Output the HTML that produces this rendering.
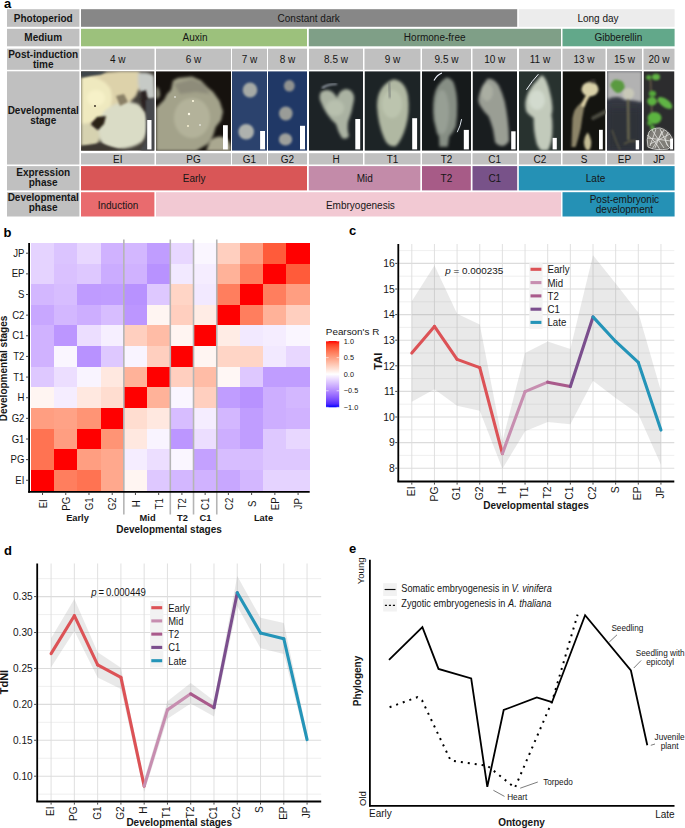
<!DOCTYPE html>
<html><head><meta charset="utf-8"><title>Figure</title>
<style>
html,body{margin:0;padding:0;background:#fff;}
body{width:685px;height:828px;overflow:hidden;}
svg{display:block;font-family:"Liberation Sans",sans-serif;}
</style></head><body>
<svg width="685" height="828" viewBox="0 0 685 828">
<rect x="7" y="9.2" width="72.40" height="17.60" fill="#c0c0c0" />
<rect x="7" y="28.8" width="72.40" height="17.50" fill="#c0c0c0" />
<rect x="7" y="48.7" width="72.40" height="21.10" fill="#c0c0c0" />
<rect x="7" y="71.3" width="72.40" height="93.20" fill="#c0c0c0" />
<rect x="7" y="166.1" width="72.40" height="24.30" fill="#c0c0c0" />
<rect x="7" y="192.2" width="72.40" height="24.30" fill="#c0c0c0" />
<text x="43.2" y="21.6" font-size="10" text-anchor="middle" font-weight="bold" fill="#161616" >Photoperiod</text>
<text x="43.2" y="40.6" font-size="10" text-anchor="middle" font-weight="bold" fill="#161616" >Medium</text>
<text x="43.2" y="57.6" font-size="10" text-anchor="middle" font-weight="bold" fill="#161616" >Post-induction</text>
<text x="43.2" y="68.1" font-size="10" text-anchor="middle" font-weight="bold" fill="#161616" >time</text>
<text x="43.2" y="113.5" font-size="10" text-anchor="middle" font-weight="bold" fill="#161616" >Developmental</text>
<text x="43.2" y="124.0" font-size="10" text-anchor="middle" font-weight="bold" fill="#161616" >stage</text>
<text x="43.2" y="175.8" font-size="10" text-anchor="middle" font-weight="bold" fill="#161616" >Expression</text>
<text x="43.2" y="185.8" font-size="10" text-anchor="middle" font-weight="bold" fill="#161616" >phase</text>
<text x="43.2" y="201.1" font-size="10" text-anchor="middle" font-weight="bold" fill="#161616" >Developmental</text>
<text x="43.2" y="211.4" font-size="10" text-anchor="middle" font-weight="bold" fill="#161616" >phase</text>
<rect x="81" y="9.2" width="436.20" height="17.60" fill="#878787" />
<rect x="518.8" y="9.2" width="155.80" height="17.60" fill="#ececec" />
<text x="308.7" y="22.0" font-size="10" text-anchor="middle" font-weight="normal" fill="#161616" >Constant dark</text>
<text x="598" y="22.0" font-size="10" text-anchor="middle" font-weight="normal" fill="#161616" >Long day</text>
<rect x="81" y="28.8" width="226.00" height="17.50" fill="#9cc17c" />
<rect x="308.8" y="28.8" width="252.20" height="17.50" fill="#7f9f87" />
<rect x="562.5" y="28.8" width="112.10" height="17.50" fill="#62a88a" />
<text x="195" y="41.2" font-size="10" text-anchor="middle" font-weight="normal" fill="#161616" >Auxin</text>
<text x="434.7" y="41.2" font-size="10" text-anchor="middle" font-weight="normal" fill="#161616" >Hormone-free</text>
<text x="618.4" y="41.2" font-size="10" text-anchor="middle" font-weight="normal" fill="#161616" >Gibberellin</text>
<rect x="81" y="48.7" width="73.50" height="21.10" fill="#c0c0c0" />
<text x="117.75" y="63.2" font-size="10" text-anchor="middle" font-weight="normal" fill="#161616" >4 w</text>
<rect x="81" y="153.2" width="73.50" height="11.30" fill="#c0c0c0" />
<text x="117.75" y="162.7" font-size="10" text-anchor="middle" font-weight="normal" fill="#161616" >EI</text>
<rect x="156" y="48.7" width="75.00" height="21.10" fill="#c0c0c0" />
<text x="193.5" y="63.2" font-size="10" text-anchor="middle" font-weight="normal" fill="#161616" >6 w</text>
<rect x="156" y="153.2" width="75.00" height="11.30" fill="#c0c0c0" />
<text x="193.5" y="162.7" font-size="10" text-anchor="middle" font-weight="normal" fill="#161616" >PG</text>
<rect x="232" y="48.7" width="35.00" height="21.10" fill="#c0c0c0" />
<text x="249.5" y="63.2" font-size="10" text-anchor="middle" font-weight="normal" fill="#161616" >7 w</text>
<rect x="232" y="153.2" width="35.00" height="11.30" fill="#c0c0c0" />
<text x="249.5" y="162.7" font-size="10" text-anchor="middle" font-weight="normal" fill="#161616" >G1</text>
<rect x="268" y="48.7" width="39.00" height="21.10" fill="#c0c0c0" />
<text x="287.5" y="63.2" font-size="10" text-anchor="middle" font-weight="normal" fill="#161616" >8 w</text>
<rect x="268" y="153.2" width="39.00" height="11.30" fill="#c0c0c0" />
<text x="287.5" y="162.7" font-size="10" text-anchor="middle" font-weight="normal" fill="#161616" >G2</text>
<rect x="309" y="48.7" width="54.00" height="21.10" fill="#c0c0c0" />
<text x="336.0" y="63.2" font-size="10" text-anchor="middle" font-weight="normal" fill="#161616" >8.5 w</text>
<rect x="309" y="153.2" width="54.00" height="11.30" fill="#c0c0c0" />
<text x="336.0" y="162.7" font-size="10" text-anchor="middle" font-weight="normal" fill="#161616" >H</text>
<rect x="364.5" y="48.7" width="56.00" height="21.10" fill="#c0c0c0" />
<text x="392.5" y="63.2" font-size="10" text-anchor="middle" font-weight="normal" fill="#161616" >9 w</text>
<rect x="364.5" y="153.2" width="56.00" height="11.30" fill="#c0c0c0" />
<text x="392.5" y="162.7" font-size="10" text-anchor="middle" font-weight="normal" fill="#161616" >T1</text>
<rect x="422" y="48.7" width="49.00" height="21.10" fill="#c0c0c0" />
<text x="446.5" y="63.2" font-size="10" text-anchor="middle" font-weight="normal" fill="#161616" >9.5 w</text>
<rect x="422" y="153.2" width="49.00" height="11.30" fill="#c0c0c0" />
<text x="446.5" y="162.7" font-size="10" text-anchor="middle" font-weight="normal" fill="#161616" >T2</text>
<rect x="472.5" y="48.7" width="44.50" height="21.10" fill="#c0c0c0" />
<text x="494.75" y="63.2" font-size="10" text-anchor="middle" font-weight="normal" fill="#161616" >10 w</text>
<rect x="472.5" y="153.2" width="44.50" height="11.30" fill="#c0c0c0" />
<text x="494.75" y="162.7" font-size="10" text-anchor="middle" font-weight="normal" fill="#161616" >C1</text>
<rect x="519" y="48.7" width="42.00" height="21.10" fill="#c0c0c0" />
<text x="540.0" y="63.2" font-size="10" text-anchor="middle" font-weight="normal" fill="#161616" >11 w</text>
<rect x="519" y="153.2" width="42.00" height="11.30" fill="#c0c0c0" />
<text x="540.0" y="162.7" font-size="10" text-anchor="middle" font-weight="normal" fill="#161616" >C2</text>
<rect x="562.5" y="48.7" width="43.00" height="21.10" fill="#c0c0c0" />
<text x="584.0" y="63.2" font-size="10" text-anchor="middle" font-weight="normal" fill="#161616" >13 w</text>
<rect x="562.5" y="153.2" width="43.00" height="11.30" fill="#c0c0c0" />
<text x="584.0" y="162.7" font-size="10" text-anchor="middle" font-weight="normal" fill="#161616" >S</text>
<rect x="607" y="48.7" width="35.00" height="21.10" fill="#c0c0c0" />
<text x="624.5" y="63.2" font-size="10" text-anchor="middle" font-weight="normal" fill="#161616" >15 w</text>
<rect x="607" y="153.2" width="35.00" height="11.30" fill="#c0c0c0" />
<text x="624.5" y="162.7" font-size="10" text-anchor="middle" font-weight="normal" fill="#161616" >EP</text>
<rect x="643.5" y="48.7" width="31.00" height="21.10" fill="#c0c0c0" />
<text x="659.0" y="63.2" font-size="10" text-anchor="middle" font-weight="normal" fill="#161616" >20 w</text>
<rect x="643.5" y="153.2" width="31.00" height="11.30" fill="#c0c0c0" />
<text x="659.0" y="162.7" font-size="10" text-anchor="middle" font-weight="normal" fill="#161616" >JP</text>
<rect x="81" y="166.1" width="226.00" height="24.30" fill="#d95657" />
<rect x="308.8" y="166.1" width="111.50" height="24.30" fill="#c38ba9" />
<rect x="422" y="166.1" width="48.80" height="24.30" fill="#a75b87" />
<rect x="472.5" y="166.1" width="44.70" height="24.30" fill="#785289" />
<rect x="518.8" y="166.1" width="155.80" height="24.30" fill="#2591b5" />
<text x="194.2" y="181.5" font-size="10" text-anchor="middle" font-weight="normal" fill="#161616" >Early</text>
<text x="364.7" y="181.5" font-size="10" text-anchor="middle" font-weight="normal" fill="#161616" >Mid</text>
<text x="446.4" y="181.8" font-size="10" text-anchor="middle" font-weight="normal" fill="#161616" >T2</text>
<text x="494.8" y="181.8" font-size="10" text-anchor="middle" font-weight="normal" fill="#161616" >C1</text>
<text x="595.5" y="181.7" font-size="10" text-anchor="middle" font-weight="normal" fill="#161616" >Late</text>
<rect x="81" y="192.2" width="73.40" height="24.30" fill="#e96b6e" />
<rect x="156" y="192.2" width="405.00" height="24.30" fill="#f2c9d3" />
<rect x="562.5" y="192.2" width="112.10" height="24.30" fill="#2591b5" />
<text x="118" y="208.5" font-size="10" text-anchor="middle" font-weight="normal" fill="#161616" >Induction</text>
<text x="360.4" y="208.8" font-size="10" text-anchor="middle" font-weight="normal" fill="#161616" >Embryogenesis</text>
<text x="624.4" y="202.9" font-size="10" text-anchor="middle" font-weight="normal" fill="#161616" >Post-embryonic</text>
<text x="624.4" y="212.6" font-size="10" text-anchor="middle" font-weight="normal" fill="#161616" >development</text>
<defs>
<filter id="b1" x="-20%" y="-20%" width="140%" height="140%"><feGaussianBlur stdDeviation="0.8"/></filter>
<filter id="b2" x="-20%" y="-20%" width="140%" height="140%"><feGaussianBlur stdDeviation="1.6"/></filter>
<filter id="b3" x="-30%" y="-30%" width="160%" height="160%"><feGaussianBlur stdDeviation="3"/></filter>
<clipPath id="c0"><rect x="81" y="71.2" width="73.5" height="79.60000000000001"/></clipPath>
<clipPath id="c1"><rect x="156" y="71.2" width="75" height="79.60000000000001"/></clipPath>
<clipPath id="c2"><rect x="232" y="71.2" width="35" height="79.60000000000001"/></clipPath>
<clipPath id="c3"><rect x="268" y="71.2" width="39" height="79.60000000000001"/></clipPath>
<clipPath id="c4"><rect x="309" y="71.2" width="54" height="79.60000000000001"/></clipPath>
<clipPath id="c5"><rect x="364.5" y="71.2" width="56.0" height="79.60000000000001"/></clipPath>
<clipPath id="c6"><rect x="422" y="71.2" width="49" height="79.60000000000001"/></clipPath>
<clipPath id="c7"><rect x="472.5" y="71.2" width="44.5" height="79.60000000000001"/></clipPath>
<clipPath id="c8"><rect x="519" y="71.2" width="42" height="79.60000000000001"/></clipPath>
<clipPath id="c9"><rect x="562.5" y="71.2" width="43.0" height="79.60000000000001"/></clipPath>
<clipPath id="c10"><rect x="607" y="71.2" width="35" height="79.60000000000001"/></clipPath>
<clipPath id="c11"><rect x="643.5" y="71.2" width="31.0" height="79.60000000000001"/></clipPath>
</defs>
<g clip-path="url(#c0)">
<rect x="81" y="71.2" width="73.5" height="79.60000000000001" fill="#44403a"/>

<g filter="url(#b2)">
<path d="M81,77 L90,75 L100,73 L108,72 L120,71 L138,71 L146,76 L140,86 L136,96 L128,104 L118,108 L108,112 L100,118 L92,124 L81,128 Z" fill="#ddd2aa"/>
<path d="M81,78 Q88,74 96,78 Q104,80 110,88 Q114,98 110,108 Q104,116 96,120 Q88,124 81,124 Z" fill="#efe9bf"/>
<ellipse cx="96" cy="98" rx="9" ry="8" fill="#f6f1c8"/>
<path d="M138,73 Q148,71 154,76 L155,98 Q150,100 144,97 Q138,90 138,82 Z" fill="#c6cac6"/>
<path d="M100,118 Q104,108 116,104 Q128,100 138,104 Q146,110 148,122 Q148,134 142,142 Q132,149 118,149 Q104,149 100,140 Q96,130 100,118 Z" fill="#dadcc6"/>
<path d="M81,124 Q92,122 98,130 Q102,140 96,146 Q88,148 81,146 Z" fill="#d6d2b0"/>
</g>
<g filter="url(#b1)">
<path d="M81,71 L107,71 L101,74.4 L92,75.6 L81,77.5 Z" fill="#3c4448"/>
<path d="M91,124 L97,117 L106,116 L104,124 L98,130 Z" fill="#2a2018"/>
<path d="M140,92 L146,90 L148,100 L146,112 L142,106 Z" fill="#2a2420"/>
<path d="M146,100 L155,98 L155,151 L140,151 L146,140 Z" fill="#464a4e"/>
<path d="M116,96 L124,94 L128,102 L120,106 Z" fill="#8a8066"/>
<path d="M81,146 L100,143 L118,149 L130,151 L81,151 Z" fill="#3c3832"/>
</g>
<circle cx="95" cy="106" r="0.9" fill="#2a2018"/>

<rect x="147.2" y="120" width="4.30" height="29.40" fill="#fff"/>
</g>
<g clip-path="url(#c1)">
<rect x="156" y="71.2" width="75" height="79.60000000000001" fill="#16120e"/>

<g filter="url(#b2)">
<path d="M156,108 L164,100 L167,94 L171,90 L173,80.5 L178,78 L192,76.5 L201,80.5 L208,87.7 L213,91.7 L219.6,101 L223,111.4 L221,120.6 L215.7,127 L213,136 L207.8,144 L202.6,147 L196,151 L156,151 Z" fill="#a3a28a"/>
<path d="M174,84 L192,79 L204,84 L210,94 L196,92 L180,94 Z" fill="#8e8c7a"/>
<ellipse cx="192" cy="118" rx="18" ry="20" fill="#b3b29a"/>
<path d="M210.5,140 Q218,134 226,138 Q231,142 231,151 L206,151 Z" fill="#aaa890"/>
<path d="M156,86 Q160,88 160,96 L156,100 Z" fill="#8a8a78"/>
</g>
<circle cx="193" cy="101" r="1.1" fill="#fffbe0"/><circle cx="189" cy="114" r="1.2" fill="#fffbe8"/><circle cx="188" cy="126" r="0.9" fill="#fff8d8"/><circle cx="200" cy="125" r="0.8" fill="#fff"/><circle cx="175" cy="97" r="0.8" fill="#fff"/>

<rect x="223" y="125.2" width="4.80" height="24.20" fill="#fff"/>
</g>
<g clip-path="url(#c2)">
<rect x="232" y="71.2" width="35" height="79.60000000000001" fill="#2b426d"/>

<g filter="url(#b1)">
<ellipse cx="250" cy="90" rx="7.3" ry="7.6" fill="#a6aaa6"/>
<ellipse cx="246.2" cy="131.8" rx="7.8" ry="7.8" fill="#aeb2ae"/>
</g>

<rect x="260.1" y="131" width="4.90" height="18.40" fill="#fff"/>
</g>
<g clip-path="url(#c3)">
<rect x="268" y="71.2" width="39" height="79.60000000000001" fill="#203866"/>

<g filter="url(#b1)">
<ellipse cx="289.3" cy="85.8" rx="5.4" ry="5.8" fill="#909290"/>
<ellipse cx="285.8" cy="113.5" rx="6.8" ry="7" fill="#9a9c98"/>
<ellipse cx="285.5" cy="139.4" rx="6.6" ry="6.2" fill="#9ea09c"/>
</g>

<rect x="300" y="125.8" width="5.00" height="23.60" fill="#fff"/>
</g>
<g clip-path="url(#c4)">
<rect x="309" y="71.2" width="54" height="79.60000000000001" fill="#1d2326"/>

<g filter="url(#b2)">
<path d="M320,100 Q318,90 327,90 Q333,90 337,98 Q339,90 346,89 Q355,90 354,100 Q352,112 348,122 Q347,130 349,136 Q347,140 342,138 Q338,132 336,124 Q326,116 320,100 Z" fill="#aab2a2"/>
<ellipse cx="335" cy="108" rx="9" ry="8" fill="#b8c0ae"/>
</g>
<path d="M322,88 Q328,84 337,84" stroke="#e8f0ff" stroke-width="1.2" fill="none" filter="url(#b1)"/>

<rect x="355.3" y="119" width="4.90" height="30.40" fill="#fff"/>
</g>
<g clip-path="url(#c5)">
<rect x="364.5" y="71.2" width="56.0" height="79.60000000000001" fill="#1d2426"/>

<g filter="url(#b2)">
<path d="M393,79.5 Q405,80 408,96 Q410,112 406,126 Q402,140 396,146 Q388,148 384,138 Q378,124 377,106 Q377,86 393,79.5 Z" fill="#b0b8a2"/>
<ellipse cx="392" cy="104" rx="10" ry="14" fill="#bcc4ae"/>
</g>
<path d="M389,82 L390,98" stroke="#6a7070" stroke-width="1.5" filter="url(#b1)"/>

<rect x="412.2" y="118.2" width="4.90" height="31.20" fill="#fff"/>
</g>
<g clip-path="url(#c6)">
<rect x="422" y="71.2" width="49" height="79.60000000000001" fill="#161a1b"/>

<g filter="url(#b2)">
<path d="M446.3,77.5 Q451,78 453.6,82.6 Q457,92 457.2,104.5 Q457.5,116 455.8,126.4 Q453,133 449.2,136.6 L447.7,146.8 L439.5,146.8 L439,136.6 Q436,133 436,129.3 Q433,120 433.1,111.8 Q433,103 433.9,97.2 Q436,84 446.3,77.5 Z" fill="#868e84"/>
<ellipse cx="442" cy="112" rx="7" ry="22" fill="#979f94"/>
</g>
<path d="M434,80.4 Q437,75 441.9,73.1" stroke="#f0f4ff" stroke-width="1.1" fill="none"/>
<path d="M457.2,132.2 Q460.5,126 461.6,119.1" stroke="#d8e0e8" stroke-width="1" fill="none"/>

<rect x="463.8" y="129.9" width="5.10" height="19.50" fill="#fff"/>
</g>
<g clip-path="url(#c7)">
<rect x="472.5" y="71.2" width="44.5" height="79.60000000000001" fill="#191d1f"/>

<g filter="url(#b2)">
<path d="M487.2,78.9 Q491,78.5 493,79.7 Q497,82 498.8,85.5 Q502.5,93 504.7,101.6 Q506.5,110 507.6,119.1 Q509,130 509,141 Q506,146 501.8,146.1 Q497,145 495.2,142.5 Q494,135 493,129.3 Q491,122 488.6,116.2 Q484,112 481.3,107.4 Q478,103 478.4,98.7 Q480,88 487.2,78.9 Z" fill="#9a9e94"/>
<ellipse cx="487" cy="92" rx="6" ry="9" fill="#aaaea2"/>
</g>

<rect x="511.2" y="131.3" width="4.40" height="18.10" fill="#fff"/>
</g>
<g clip-path="url(#c8)">
<rect x="519" y="71.2" width="42" height="79.60000000000001" fill="#28322f"/>

<g filter="url(#b2)">
<path d="M542,75.3 Q545,77 546.2,80.5 Q549,87 550.3,94 Q552,100 552.4,107.5 Q552.5,112 551.4,114.8 Q552.5,120 552.4,126.2 Q552.5,134 551.4,140.8 Q550,147 548,150.5 L541,150.5 Q538,147 536.8,143.9 Q535,137 534.2,130.4 Q533.5,122 533.7,117.9 Q529,115 526.4,111.7 Q525,107 525.4,102.3 Q526,97 528.5,91.9 Q532,85 537.9,79.4 Q540,76 542,75.3 Z" fill="#c2cabb"/>
<ellipse cx="537" cy="100" rx="8" ry="10" fill="#d2dace"/>
</g>
<path d="M526.4,89.8 Q532,81 538.4,74.2" stroke="#f4f8ff" stroke-width="1" fill="none"/>

<rect x="552.6" y="137.9" width="4.20" height="11.50" fill="#fff"/>
</g>
<g clip-path="url(#c9)">
<rect x="562.5" y="71.2" width="43.0" height="79.60000000000001" fill="#141410"/>

<g filter="url(#b1)">
<path d="M571.5,147 Q572,130 572.5,118 Q574,108 580,104 Q584,100 587,95 L590,96 Q586,102 584,108 Q582,118 580.8,128 Q578,140 575.6,147 Z" fill="#8c8468"/>
<path d="M586,95 Q583,100 581,106 L584.5,107 Q586,101 589.5,96 Z" fill="#dcd0a4"/>
<ellipse cx="590" cy="89.2" rx="8.5" ry="7.3" fill="#d8d0a8"/>
<path d="M588,82 Q592,78 596,80 L594,84 Z" fill="#3a3630"/>
<path d="M593.2,118 L605.7,111.6" stroke="#4a4a40" stroke-width="4" stroke-linecap="round"/>
<path d="M587.5,132.4 Q590,135 591.2,142 Q591,150 588,150.5 Q584.5,150 583.9,142 Q584.5,136 587.5,132.4 Z" fill="#c4bc94"/>
</g>

<rect x="599" y="129.8" width="3.80" height="19.60" fill="#fff"/>
</g>
<g clip-path="url(#c10)">
<rect x="607" y="71.2" width="35" height="79.60000000000001" fill="#353842"/>

<path d="M607,71 L642,71 L642,102.3 Q633,100 625,100 Q620,97 617,97.1 Q612,97 607,99.5 Z" fill="#b2b2b2" filter="url(#b2)"/>
<rect x="607" y="108" width="35" height="43" fill="#2e3038" filter="url(#b3)"/>
<g filter="url(#b1)">
<path d="M610.2,85 Q612,80 616,79.4 Q619,80 622,81 Q625,84 624.8,88 Q622,93 617,93 Q613,91 610.2,85 Z" fill="#5a9a40"/>
<ellipse cx="628.4" cy="93.5" rx="5.7" ry="5.5" fill="#c8c8b8"/>
<path d="M628,99 L628.5,140" stroke="#6a6850" stroke-width="2.5"/>
<path d="M612,130 Q616,142 620,150" stroke="#6a6448" stroke-width="1" fill="none"/>
<path d="M624,144 Q630,140 636,141" stroke="#6a6448" stroke-width="1.2" fill="none"/>
</g>

<rect x="635.7" y="140.2" width="3.40" height="9.20" fill="#fff"/>
</g>
<g clip-path="url(#c11)">
<rect x="643.5" y="71.2" width="31.0" height="79.60000000000001" fill="#2c2c2e"/>

<g filter="url(#b1)">
<path d="M650.5,80 L651,93 M652,96 L651.5,116 M653,104 L660,100" stroke="#7a6a50" stroke-width="1.2" fill="none"/>
<ellipse cx="656" cy="77" rx="4" ry="3.2" fill="#62b444"/>
<ellipse cx="648.8" cy="77.4" rx="2.6" ry="2.4" fill="#58a83c"/>
<ellipse cx="652.5" cy="93.7" rx="3.6" ry="2.9" fill="#54a83a"/>
<ellipse cx="652" cy="101.2" rx="4.7" ry="4.2" fill="#5cb040"/>
<ellipse cx="665" cy="103" rx="8.5" ry="4" transform="rotate(35 665 103)" fill="#60b444"/>
<ellipse cx="654.5" cy="118" rx="7" ry="6" fill="#5cb440"/>
<ellipse cx="649.7" cy="123" rx="2.4" ry="2.6" fill="#54a83a"/>
<ellipse cx="652.5" cy="127.7" rx="2.2" ry="2.6" fill="#54a83a"/>
<path d="M649,132 Q646,140 648,147 Q656,151 668,149 Q673,146 672,138 Q668,130 660,128 Q652,128 649,132 Z" fill="#807e78"/>
</g>
<g stroke="#e8e8e4" stroke-width="0.8" fill="none" opacity="0.95">
<path d="M649,132 Q646,140 648,147 Q656,151 668,149 Q673,146 672,138 Q668,130 660,128 Q652,128 649,132 Z"/>
<path d="M652,130 L664,148 M656,129 L650,146 M660,129 L668,146 M648,138 L671,141 M650,144 L670,134 M655,148 L662,131 M647,135 Q655,140 660,150 M664,130 Q658,140 652,149 M668,132 Q662,142 670,148"/>
</g>

<rect x="670.1" y="138.6" width="2.90" height="10.80" fill="#fff"/>
</g>
<text x="4" y="8.2" font-size="13" text-anchor="start" font-weight="bold" fill="#000" >a</text>
<text x="3.6" y="237.0" font-size="13" text-anchor="start" font-weight="bold" fill="#000" >b</text>
<text x="349" y="234.8" font-size="13" text-anchor="start" font-weight="bold" fill="#000" >c</text>
<text x="4" y="554.7" font-size="13" text-anchor="start" font-weight="bold" fill="#000" >d</text>
<text x="349" y="553.1" font-size="13" text-anchor="start" font-weight="bold" fill="#000" >e</text>
<g shape-rendering="crispEdges">
<rect x="30.90" y="242.90" width="23.53" height="20.94" fill="#e5d3ff"/>
<rect x="54.13" y="242.90" width="23.53" height="20.94" fill="#dbc4ff"/>
<rect x="77.37" y="242.90" width="23.53" height="20.94" fill="#e8d7ff"/>
<rect x="100.60" y="242.90" width="23.53" height="20.94" fill="#d0b2ff"/>
<rect x="123.83" y="242.90" width="23.53" height="20.94" fill="#d3b7ff"/>
<rect x="147.07" y="242.90" width="23.53" height="20.94" fill="#c09dff"/>
<rect x="170.30" y="242.90" width="23.53" height="20.94" fill="#e8d7ff"/>
<rect x="193.53" y="242.90" width="23.53" height="20.94" fill="#faf6ff"/>
<rect x="216.77" y="242.90" width="23.53" height="20.94" fill="#ffcfbf"/>
<rect x="240.00" y="242.90" width="23.53" height="20.94" fill="#ff9e81"/>
<rect x="263.23" y="242.90" width="23.53" height="20.94" fill="#ff5b3a"/>
<rect x="286.47" y="242.90" width="23.53" height="20.94" fill="#ff0000"/>
<rect x="30.90" y="263.54" width="23.53" height="20.94" fill="#e5d3ff"/>
<rect x="54.13" y="263.54" width="23.53" height="20.94" fill="#dac1ff"/>
<rect x="77.37" y="263.54" width="23.53" height="20.94" fill="#dec8ff"/>
<rect x="100.60" y="263.54" width="23.53" height="20.94" fill="#cbacff"/>
<rect x="123.83" y="263.54" width="23.53" height="20.94" fill="#d0b2ff"/>
<rect x="147.07" y="263.54" width="23.53" height="20.94" fill="#b892ff"/>
<rect x="170.30" y="263.54" width="23.53" height="20.94" fill="#f2e9ff"/>
<rect x="193.53" y="263.54" width="23.53" height="20.94" fill="#f5edff"/>
<rect x="216.77" y="263.54" width="23.53" height="20.94" fill="#ffb299"/>
<rect x="240.00" y="263.54" width="23.53" height="20.94" fill="#ff7e5e"/>
<rect x="263.23" y="263.54" width="23.53" height="20.94" fill="#ff0000"/>
<rect x="286.47" y="263.54" width="23.53" height="20.94" fill="#ff5b3a"/>
<rect x="30.90" y="284.18" width="23.53" height="20.94" fill="#d3b7ff"/>
<rect x="54.13" y="284.18" width="23.53" height="20.94" fill="#d7bdff"/>
<rect x="77.37" y="284.18" width="23.53" height="20.94" fill="#bf9bff"/>
<rect x="100.60" y="284.18" width="23.53" height="20.94" fill="#c09dff"/>
<rect x="123.83" y="284.18" width="23.53" height="20.94" fill="#b892ff"/>
<rect x="147.07" y="284.18" width="23.53" height="20.94" fill="#dec8ff"/>
<rect x="170.30" y="284.18" width="23.53" height="20.94" fill="#ffd5c6"/>
<rect x="193.53" y="284.18" width="23.53" height="20.94" fill="#f2e9ff"/>
<rect x="216.77" y="284.18" width="23.53" height="20.94" fill="#ff7e5e"/>
<rect x="240.00" y="284.18" width="23.53" height="20.94" fill="#ff0000"/>
<rect x="263.23" y="284.18" width="23.53" height="20.94" fill="#ff7e5e"/>
<rect x="286.47" y="284.18" width="23.53" height="20.94" fill="#ff9e81"/>
<rect x="30.90" y="304.83" width="23.53" height="20.94" fill="#c8a7ff"/>
<rect x="54.13" y="304.83" width="23.53" height="20.94" fill="#d3b7ff"/>
<rect x="77.37" y="304.83" width="23.53" height="20.94" fill="#cdaeff"/>
<rect x="100.60" y="304.83" width="23.53" height="20.94" fill="#d7bdff"/>
<rect x="123.83" y="304.83" width="23.53" height="20.94" fill="#bc96ff"/>
<rect x="147.07" y="304.83" width="23.53" height="20.94" fill="#fff5f2"/>
<rect x="170.30" y="304.83" width="23.53" height="20.94" fill="#ffcfbf"/>
<rect x="193.53" y="304.83" width="23.53" height="20.94" fill="#ffece5"/>
<rect x="216.77" y="304.83" width="23.53" height="20.94" fill="#ff0000"/>
<rect x="240.00" y="304.83" width="23.53" height="20.94" fill="#ff7e5e"/>
<rect x="263.23" y="304.83" width="23.53" height="20.94" fill="#ffb299"/>
<rect x="286.47" y="304.83" width="23.53" height="20.94" fill="#ffcfbf"/>
<rect x="30.90" y="325.47" width="23.53" height="20.94" fill="#d0b2ff"/>
<rect x="54.13" y="325.47" width="23.53" height="20.94" fill="#bc96ff"/>
<rect x="77.37" y="325.47" width="23.53" height="20.94" fill="#ecdeff"/>
<rect x="100.60" y="325.47" width="23.53" height="20.94" fill="#f6efff"/>
<rect x="123.83" y="325.47" width="23.53" height="20.94" fill="#ffcfbf"/>
<rect x="147.07" y="325.47" width="23.53" height="20.94" fill="#ffbca6"/>
<rect x="170.30" y="325.47" width="23.53" height="20.94" fill="#fff5f2"/>
<rect x="193.53" y="325.47" width="23.53" height="20.94" fill="#ff0000"/>
<rect x="216.77" y="325.47" width="23.53" height="20.94" fill="#ffece5"/>
<rect x="240.00" y="325.47" width="23.53" height="20.94" fill="#f2e9ff"/>
<rect x="263.23" y="325.47" width="23.53" height="20.94" fill="#f5edff"/>
<rect x="286.47" y="325.47" width="23.53" height="20.94" fill="#faf6ff"/>
<rect x="30.90" y="346.11" width="23.53" height="20.94" fill="#d0b2ff"/>
<rect x="54.13" y="346.11" width="23.53" height="20.94" fill="#faf6ff"/>
<rect x="77.37" y="346.11" width="23.53" height="20.94" fill="#b892ff"/>
<rect x="100.60" y="346.11" width="23.53" height="20.94" fill="#dec8ff"/>
<rect x="123.83" y="346.11" width="23.53" height="20.94" fill="#f9f4ff"/>
<rect x="147.07" y="346.11" width="23.53" height="20.94" fill="#ffcfbf"/>
<rect x="170.30" y="346.11" width="23.53" height="20.94" fill="#ff0000"/>
<rect x="193.53" y="346.11" width="23.53" height="20.94" fill="#fff5f2"/>
<rect x="216.77" y="346.11" width="23.53" height="20.94" fill="#ffd5c6"/>
<rect x="240.00" y="346.11" width="23.53" height="20.94" fill="#ffd5c6"/>
<rect x="263.23" y="346.11" width="23.53" height="20.94" fill="#f2e9ff"/>
<rect x="286.47" y="346.11" width="23.53" height="20.94" fill="#e8d7ff"/>
<rect x="30.90" y="366.75" width="23.53" height="20.94" fill="#dec8ff"/>
<rect x="54.13" y="366.75" width="23.53" height="20.94" fill="#ecdeff"/>
<rect x="77.37" y="366.75" width="23.53" height="20.94" fill="#f9f4ff"/>
<rect x="100.60" y="366.75" width="23.53" height="20.94" fill="#ffe8e0"/>
<rect x="123.83" y="366.75" width="23.53" height="20.94" fill="#ffb299"/>
<rect x="147.07" y="366.75" width="23.53" height="20.94" fill="#ff0000"/>
<rect x="170.30" y="366.75" width="23.53" height="20.94" fill="#ffcfbf"/>
<rect x="193.53" y="366.75" width="23.53" height="20.94" fill="#ffbca6"/>
<rect x="216.77" y="366.75" width="23.53" height="20.94" fill="#fff7f5"/>
<rect x="240.00" y="366.75" width="23.53" height="20.94" fill="#dec8ff"/>
<rect x="263.23" y="366.75" width="23.53" height="20.94" fill="#c09dff"/>
<rect x="286.47" y="366.75" width="23.53" height="20.94" fill="#c09dff"/>
<rect x="30.90" y="387.39" width="23.53" height="20.94" fill="#fff5f2"/>
<rect x="54.13" y="387.39" width="23.53" height="20.94" fill="#f5edff"/>
<rect x="77.37" y="387.39" width="23.53" height="20.94" fill="#ffe8e0"/>
<rect x="100.60" y="387.39" width="23.53" height="20.94" fill="#ffddd0"/>
<rect x="123.83" y="387.39" width="23.53" height="20.94" fill="#ff0000"/>
<rect x="147.07" y="387.39" width="23.53" height="20.94" fill="#ffb299"/>
<rect x="170.30" y="387.39" width="23.53" height="20.94" fill="#faf6ff"/>
<rect x="193.53" y="387.39" width="23.53" height="20.94" fill="#ffcfbf"/>
<rect x="216.77" y="387.39" width="23.53" height="20.94" fill="#c09dff"/>
<rect x="240.00" y="387.39" width="23.53" height="20.94" fill="#b892ff"/>
<rect x="263.23" y="387.39" width="23.53" height="20.94" fill="#cdaeff"/>
<rect x="286.47" y="387.39" width="23.53" height="20.94" fill="#d3b7ff"/>
<rect x="30.90" y="408.03" width="23.53" height="20.94" fill="#ff9e81"/>
<rect x="54.13" y="408.03" width="23.53" height="20.94" fill="#ffa286"/>
<rect x="77.37" y="408.03" width="23.53" height="20.94" fill="#ff9475"/>
<rect x="100.60" y="408.03" width="23.53" height="20.94" fill="#ff0000"/>
<rect x="123.83" y="408.03" width="23.53" height="20.94" fill="#ffddd0"/>
<rect x="147.07" y="408.03" width="23.53" height="20.94" fill="#ffe8e0"/>
<rect x="170.30" y="408.03" width="23.53" height="20.94" fill="#d7bdff"/>
<rect x="193.53" y="408.03" width="23.53" height="20.94" fill="#f5edff"/>
<rect x="216.77" y="408.03" width="23.53" height="20.94" fill="#d3b7ff"/>
<rect x="240.00" y="408.03" width="23.53" height="20.94" fill="#c09dff"/>
<rect x="263.23" y="408.03" width="23.53" height="20.94" fill="#cdaeff"/>
<rect x="286.47" y="408.03" width="23.53" height="20.94" fill="#d0b2ff"/>
<rect x="30.90" y="428.68" width="23.53" height="20.94" fill="#ff7352"/>
<rect x="54.13" y="428.68" width="23.53" height="20.94" fill="#ff9e81"/>
<rect x="77.37" y="428.68" width="23.53" height="20.94" fill="#ff0000"/>
<rect x="100.60" y="428.68" width="23.53" height="20.94" fill="#ff9475"/>
<rect x="123.83" y="428.68" width="23.53" height="20.94" fill="#ffe8e0"/>
<rect x="147.07" y="428.68" width="23.53" height="20.94" fill="#f9f4ff"/>
<rect x="170.30" y="428.68" width="23.53" height="20.94" fill="#bc96ff"/>
<rect x="193.53" y="428.68" width="23.53" height="20.94" fill="#ecdeff"/>
<rect x="216.77" y="428.68" width="23.53" height="20.94" fill="#cdaeff"/>
<rect x="240.00" y="428.68" width="23.53" height="20.94" fill="#c09dff"/>
<rect x="263.23" y="428.68" width="23.53" height="20.94" fill="#dec8ff"/>
<rect x="286.47" y="428.68" width="23.53" height="20.94" fill="#e8d7ff"/>
<rect x="30.90" y="449.32" width="23.53" height="20.94" fill="#ff7352"/>
<rect x="54.13" y="449.32" width="23.53" height="20.94" fill="#ff0000"/>
<rect x="77.37" y="449.32" width="23.53" height="20.94" fill="#ff9e81"/>
<rect x="100.60" y="449.32" width="23.53" height="20.94" fill="#ffa88d"/>
<rect x="123.83" y="449.32" width="23.53" height="20.94" fill="#f5edff"/>
<rect x="147.07" y="449.32" width="23.53" height="20.94" fill="#ecdeff"/>
<rect x="170.30" y="449.32" width="23.53" height="20.94" fill="#faf6ff"/>
<rect x="193.53" y="449.32" width="23.53" height="20.94" fill="#c4a1ff"/>
<rect x="216.77" y="449.32" width="23.53" height="20.94" fill="#d7bdff"/>
<rect x="240.00" y="449.32" width="23.53" height="20.94" fill="#d7bdff"/>
<rect x="263.23" y="449.32" width="23.53" height="20.94" fill="#dec8ff"/>
<rect x="286.47" y="449.32" width="23.53" height="20.94" fill="#dec8ff"/>
<rect x="30.90" y="469.96" width="23.53" height="20.94" fill="#ff0000"/>
<rect x="54.13" y="469.96" width="23.53" height="20.94" fill="#ff7e5e"/>
<rect x="77.37" y="469.96" width="23.53" height="20.94" fill="#ff7352"/>
<rect x="100.60" y="469.96" width="23.53" height="20.94" fill="#ffa88d"/>
<rect x="123.83" y="469.96" width="23.53" height="20.94" fill="#fff5f2"/>
<rect x="147.07" y="469.96" width="23.53" height="20.94" fill="#dec8ff"/>
<rect x="170.30" y="469.96" width="23.53" height="20.94" fill="#d3b7ff"/>
<rect x="193.53" y="469.96" width="23.53" height="20.94" fill="#d0b2ff"/>
<rect x="216.77" y="469.96" width="23.53" height="20.94" fill="#c8a7ff"/>
<rect x="240.00" y="469.96" width="23.53" height="20.94" fill="#d3b7ff"/>
<rect x="263.23" y="469.96" width="23.53" height="20.94" fill="#e5d3ff"/>
<rect x="286.47" y="469.96" width="23.53" height="20.94" fill="#e5d3ff"/>
</g>
<line x1="123.83" y1="239.5" x2="123.83" y2="514.4" stroke="#b5b5b5" stroke-width="1.6"/>
<line x1="170.30" y1="239.5" x2="170.30" y2="514.4" stroke="#b5b5b5" stroke-width="1.6"/>
<line x1="193.53" y1="239.5" x2="193.53" y2="514.4" stroke="#b5b5b5" stroke-width="1.6"/>
<line x1="216.77" y1="239.5" x2="216.77" y2="514.4" stroke="#b5b5b5" stroke-width="1.6"/>
<line x1="29.1" y1="242.9" x2="29.1" y2="492.8" stroke="#000" stroke-width="1.8"/>
<line x1="28.2" y1="491.9" x2="309.7" y2="491.9" stroke="#000" stroke-width="1.8"/>
<line x1="26" y1="253.22" x2="28.2" y2="253.22" stroke="#333" stroke-width="0.9"/>
<text transform="translate(24.4,256.82) scale(0.94,1)" font-size="10.2" text-anchor="end" fill="#161616">JP</text>
<line x1="26" y1="273.86" x2="28.2" y2="273.86" stroke="#333" stroke-width="0.9"/>
<text transform="translate(24.4,277.46) scale(0.94,1)" font-size="10.2" text-anchor="end" fill="#161616">EP</text>
<line x1="26" y1="294.50" x2="28.2" y2="294.50" stroke="#333" stroke-width="0.9"/>
<text transform="translate(24.4,298.10) scale(0.94,1)" font-size="10.2" text-anchor="end" fill="#161616">S</text>
<line x1="26" y1="315.15" x2="28.2" y2="315.15" stroke="#333" stroke-width="0.9"/>
<text transform="translate(24.4,318.75) scale(0.94,1)" font-size="10.2" text-anchor="end" fill="#161616">C2</text>
<line x1="26" y1="335.79" x2="28.2" y2="335.79" stroke="#333" stroke-width="0.9"/>
<text transform="translate(24.4,339.39) scale(0.94,1)" font-size="10.2" text-anchor="end" fill="#161616">C1</text>
<line x1="26" y1="356.43" x2="28.2" y2="356.43" stroke="#333" stroke-width="0.9"/>
<text transform="translate(24.4,360.03) scale(0.94,1)" font-size="10.2" text-anchor="end" fill="#161616">T2</text>
<line x1="26" y1="377.07" x2="28.2" y2="377.07" stroke="#333" stroke-width="0.9"/>
<text transform="translate(24.4,380.67) scale(0.94,1)" font-size="10.2" text-anchor="end" fill="#161616">T1</text>
<line x1="26" y1="397.71" x2="28.2" y2="397.71" stroke="#333" stroke-width="0.9"/>
<text transform="translate(24.4,401.31) scale(0.94,1)" font-size="10.2" text-anchor="end" fill="#161616">H</text>
<line x1="26" y1="418.35" x2="28.2" y2="418.35" stroke="#333" stroke-width="0.9"/>
<text transform="translate(24.4,421.95) scale(0.94,1)" font-size="10.2" text-anchor="end" fill="#161616">G2</text>
<line x1="26" y1="439.00" x2="28.2" y2="439.00" stroke="#333" stroke-width="0.9"/>
<text transform="translate(24.4,442.60) scale(0.94,1)" font-size="10.2" text-anchor="end" fill="#161616">G1</text>
<line x1="26" y1="459.64" x2="28.2" y2="459.64" stroke="#333" stroke-width="0.9"/>
<text transform="translate(24.4,463.24) scale(0.94,1)" font-size="10.2" text-anchor="end" fill="#161616">PG</text>
<line x1="26" y1="480.28" x2="28.2" y2="480.28" stroke="#333" stroke-width="0.9"/>
<text transform="translate(24.4,483.88) scale(0.94,1)" font-size="10.2" text-anchor="end" fill="#161616">EI</text>
<line x1="42.52" y1="492.8" x2="42.52" y2="495" stroke="#333" stroke-width="0.9"/>
<text transform="translate(46.72,503.8) rotate(-90) scale(0.94,1)" font-size="10.2" text-anchor="middle" fill="#161616">EI</text>
<line x1="65.75" y1="492.8" x2="65.75" y2="495" stroke="#333" stroke-width="0.9"/>
<text transform="translate(69.95,503.8) rotate(-90) scale(0.94,1)" font-size="10.2" text-anchor="middle" fill="#161616">PG</text>
<line x1="88.98" y1="492.8" x2="88.98" y2="495" stroke="#333" stroke-width="0.9"/>
<text transform="translate(93.18,503.8) rotate(-90) scale(0.94,1)" font-size="10.2" text-anchor="middle" fill="#161616">G1</text>
<line x1="112.22" y1="492.8" x2="112.22" y2="495" stroke="#333" stroke-width="0.9"/>
<text transform="translate(116.42,503.8) rotate(-90) scale(0.94,1)" font-size="10.2" text-anchor="middle" fill="#161616">G2</text>
<line x1="135.45" y1="492.8" x2="135.45" y2="495" stroke="#333" stroke-width="0.9"/>
<text transform="translate(139.65,503.8) rotate(-90) scale(0.94,1)" font-size="10.2" text-anchor="middle" fill="#161616">H</text>
<line x1="158.68" y1="492.8" x2="158.68" y2="495" stroke="#333" stroke-width="0.9"/>
<text transform="translate(162.88,503.8) rotate(-90) scale(0.94,1)" font-size="10.2" text-anchor="middle" fill="#161616">T1</text>
<line x1="181.92" y1="492.8" x2="181.92" y2="495" stroke="#333" stroke-width="0.9"/>
<text transform="translate(186.12,503.8) rotate(-90) scale(0.94,1)" font-size="10.2" text-anchor="middle" fill="#161616">T2</text>
<line x1="205.15" y1="492.8" x2="205.15" y2="495" stroke="#333" stroke-width="0.9"/>
<text transform="translate(209.35,503.8) rotate(-90) scale(0.94,1)" font-size="10.2" text-anchor="middle" fill="#161616">C1</text>
<line x1="228.38" y1="492.8" x2="228.38" y2="495" stroke="#333" stroke-width="0.9"/>
<text transform="translate(232.58,503.8) rotate(-90) scale(0.94,1)" font-size="10.2" text-anchor="middle" fill="#161616">C2</text>
<line x1="251.62" y1="492.8" x2="251.62" y2="495" stroke="#333" stroke-width="0.9"/>
<text transform="translate(255.82,503.8) rotate(-90) scale(0.94,1)" font-size="10.2" text-anchor="middle" fill="#161616">S</text>
<line x1="274.85" y1="492.8" x2="274.85" y2="495" stroke="#333" stroke-width="0.9"/>
<text transform="translate(279.05,503.8) rotate(-90) scale(0.94,1)" font-size="10.2" text-anchor="middle" fill="#161616">EP</text>
<line x1="298.08" y1="492.8" x2="298.08" y2="495" stroke="#333" stroke-width="0.9"/>
<text transform="translate(302.28,503.8) rotate(-90) scale(0.94,1)" font-size="10.2" text-anchor="middle" fill="#161616">JP</text>
<text x="77.5" y="521.3" font-size="9.3" text-anchor="middle" font-weight="bold" fill="#161616" >Early</text>
<text x="147.6" y="521.3" font-size="9.3" text-anchor="middle" font-weight="bold" fill="#161616" >Mid</text>
<text x="182.4" y="521.3" font-size="9.3" text-anchor="middle" font-weight="bold" fill="#161616" >T2</text>
<text x="205.4" y="521.3" font-size="9.3" text-anchor="middle" font-weight="bold" fill="#161616" >C1</text>
<text x="263.5" y="521.3" font-size="9.3" text-anchor="middle" font-weight="bold" fill="#161616" >Late</text>
<text x="169" y="533.2" font-size="10" text-anchor="middle" font-weight="bold" fill="#161616" >Developmental stages</text>
<text transform="translate(7.4,368.5) rotate(-90)" font-size="10" text-anchor="middle" font-weight="bold" fill="#161616">Developmental stages</text>
<defs><linearGradient id="lg" x1="0" y1="1" x2="0" y2="0">
<stop offset="0.000" stop-color="#0000ff"/>
<stop offset="0.050" stop-color="#502bff"/>
<stop offset="0.100" stop-color="#7145ff"/>
<stop offset="0.150" stop-color="#8a5dff"/>
<stop offset="0.200" stop-color="#a074ff"/>
<stop offset="0.250" stop-color="#b38bff"/>
<stop offset="0.300" stop-color="#c4a2ff"/>
<stop offset="0.350" stop-color="#d4b9ff"/>
<stop offset="0.400" stop-color="#e3d0ff"/>
<stop offset="0.450" stop-color="#f2e7ff"/>
<stop offset="0.500" stop-color="#ffffff"/>
<stop offset="0.550" stop-color="#ffece5"/>
<stop offset="0.600" stop-color="#ffd9cb"/>
<stop offset="0.650" stop-color="#ffc6b2"/>
<stop offset="0.700" stop-color="#ffb299"/>
<stop offset="0.750" stop-color="#ff9e81"/>
<stop offset="0.800" stop-color="#ff8969"/>
<stop offset="0.850" stop-color="#ff7352"/>
<stop offset="0.900" stop-color="#ff5b3a"/>
<stop offset="0.950" stop-color="#ff3e22"/>
<stop offset="1.000" stop-color="#ff0000"/>
</linearGradient></defs>
<text x="325.8" y="334.8" font-size="9.9" text-anchor="start" font-weight="normal" fill="#161616" >Pearson's R</text>
<rect x="326" y="341" width="13.20" height="66.30" fill="url(#lg)" />
<line x1="326" y1="341.10" x2="328.6" y2="341.10" stroke="#fff" stroke-width="0.6"/>
<line x1="336.6" y1="341.10" x2="339.2" y2="341.10" stroke="#fff" stroke-width="0.6"/>
<text x="343.8" y="343.7" font-size="7.3" text-anchor="start" font-weight="normal" fill="#161616" >1.0</text>
<line x1="326" y1="357.65" x2="328.6" y2="357.65" stroke="#fff" stroke-width="0.6"/>
<line x1="336.6" y1="357.65" x2="339.2" y2="357.65" stroke="#fff" stroke-width="0.6"/>
<text x="343.8" y="360.25" font-size="7.3" text-anchor="start" font-weight="normal" fill="#161616" >0.5</text>
<line x1="326" y1="374.20" x2="328.6" y2="374.20" stroke="#fff" stroke-width="0.6"/>
<line x1="336.6" y1="374.20" x2="339.2" y2="374.20" stroke="#fff" stroke-width="0.6"/>
<text x="343.8" y="376.8" font-size="7.3" text-anchor="start" font-weight="normal" fill="#161616" >0.0</text>
<line x1="326" y1="390.75" x2="328.6" y2="390.75" stroke="#fff" stroke-width="0.6"/>
<line x1="336.6" y1="390.75" x2="339.2" y2="390.75" stroke="#fff" stroke-width="0.6"/>
<text x="343.8" y="393.35" font-size="7.3" text-anchor="start" font-weight="normal" fill="#161616" >−0.5</text>
<line x1="326" y1="407.30" x2="328.6" y2="407.30" stroke="#fff" stroke-width="0.6"/>
<line x1="336.6" y1="407.30" x2="339.2" y2="407.30" stroke="#fff" stroke-width="0.6"/>
<text x="343.8" y="409.90000000000003" font-size="7.3" text-anchor="start" font-weight="normal" fill="#161616" >−1.0</text>
<line x1="399.2" y1="455.40" x2="674.3" y2="455.40" stroke="#e4e4e4" stroke-width="0.6"/>
<line x1="399.2" y1="429.80" x2="674.3" y2="429.80" stroke="#e4e4e4" stroke-width="0.6"/>
<line x1="399.2" y1="404.20" x2="674.3" y2="404.20" stroke="#e4e4e4" stroke-width="0.6"/>
<line x1="399.2" y1="378.60" x2="674.3" y2="378.60" stroke="#e4e4e4" stroke-width="0.6"/>
<line x1="399.2" y1="353.00" x2="674.3" y2="353.00" stroke="#e4e4e4" stroke-width="0.6"/>
<line x1="399.2" y1="327.40" x2="674.3" y2="327.40" stroke="#e4e4e4" stroke-width="0.6"/>
<line x1="399.2" y1="301.80" x2="674.3" y2="301.80" stroke="#e4e4e4" stroke-width="0.6"/>
<line x1="399.2" y1="276.20" x2="674.3" y2="276.20" stroke="#e4e4e4" stroke-width="0.6"/>
<line x1="399.2" y1="250.60" x2="674.3" y2="250.60" stroke="#e4e4e4" stroke-width="0.6"/>
<line x1="399.2" y1="468.20" x2="674.3" y2="468.20" stroke="#dcdcdc" stroke-width="1.1"/>
<line x1="399.2" y1="442.60" x2="674.3" y2="442.60" stroke="#dcdcdc" stroke-width="1.1"/>
<line x1="399.2" y1="417.00" x2="674.3" y2="417.00" stroke="#dcdcdc" stroke-width="1.1"/>
<line x1="399.2" y1="391.40" x2="674.3" y2="391.40" stroke="#dcdcdc" stroke-width="1.1"/>
<line x1="399.2" y1="365.80" x2="674.3" y2="365.80" stroke="#dcdcdc" stroke-width="1.1"/>
<line x1="399.2" y1="340.20" x2="674.3" y2="340.20" stroke="#dcdcdc" stroke-width="1.1"/>
<line x1="399.2" y1="314.60" x2="674.3" y2="314.60" stroke="#dcdcdc" stroke-width="1.1"/>
<line x1="399.2" y1="289.00" x2="674.3" y2="289.00" stroke="#dcdcdc" stroke-width="1.1"/>
<line x1="399.2" y1="263.40" x2="674.3" y2="263.40" stroke="#dcdcdc" stroke-width="1.1"/>
<line x1="411.80" y1="244" x2="411.80" y2="480.6" stroke="#dcdcdc" stroke-width="0.9"/>
<line x1="434.45" y1="244" x2="434.45" y2="480.6" stroke="#dcdcdc" stroke-width="0.9"/>
<line x1="457.10" y1="244" x2="457.10" y2="480.6" stroke="#dcdcdc" stroke-width="0.9"/>
<line x1="479.75" y1="244" x2="479.75" y2="480.6" stroke="#dcdcdc" stroke-width="0.9"/>
<line x1="502.40" y1="244" x2="502.40" y2="480.6" stroke="#dcdcdc" stroke-width="0.9"/>
<line x1="525.05" y1="244" x2="525.05" y2="480.6" stroke="#dcdcdc" stroke-width="0.9"/>
<line x1="547.70" y1="244" x2="547.70" y2="480.6" stroke="#dcdcdc" stroke-width="0.9"/>
<line x1="570.35" y1="244" x2="570.35" y2="480.6" stroke="#dcdcdc" stroke-width="0.9"/>
<line x1="593.00" y1="244" x2="593.00" y2="480.6" stroke="#dcdcdc" stroke-width="0.9"/>
<line x1="615.65" y1="244" x2="615.65" y2="480.6" stroke="#dcdcdc" stroke-width="0.9"/>
<line x1="638.30" y1="244" x2="638.30" y2="480.6" stroke="#dcdcdc" stroke-width="0.9"/>
<line x1="660.95" y1="244" x2="660.95" y2="480.6" stroke="#dcdcdc" stroke-width="0.9"/>
<polygon points="411.80,301.29 434.45,265.45 457.10,313.83 479.75,324.58 502.40,441.32 525.05,353.00 547.70,341.48 570.35,348.90 593.00,255.21 615.65,283.62 638.30,312.55 660.95,390.89 660.95,464.87 638.30,413.93 615.65,398.06 593.00,380.65 570.35,424.17 547.70,422.12 525.05,431.34 502.40,468.71 479.75,410.86 457.10,405.74 434.45,389.35 411.80,401.64" fill="#7f7f7f" fill-opacity="0.17"/>
<line x1="411.80" y1="353.00" x2="434.45" y2="326.38" stroke="#dc5256" stroke-width="3.1" stroke-linecap="round"/>
<line x1="434.45" y1="326.38" x2="457.10" y2="359.40" stroke="#dc5256" stroke-width="3.1" stroke-linecap="round"/>
<line x1="457.10" y1="359.40" x2="479.75" y2="367.59" stroke="#dc5256" stroke-width="3.1" stroke-linecap="round"/>
<line x1="479.75" y1="367.59" x2="502.40" y2="453.61" stroke="#dc5256" stroke-width="3.1" stroke-linecap="round"/>
<line x1="502.40" y1="453.61" x2="525.05" y2="391.66" stroke="#c78eb0" stroke-width="3.1" stroke-linecap="round"/>
<line x1="525.05" y1="391.66" x2="547.70" y2="382.18" stroke="#c78eb0" stroke-width="3.1" stroke-linecap="round"/>
<line x1="547.70" y1="382.18" x2="570.35" y2="386.54" stroke="#a95a8b" stroke-width="3.1" stroke-linecap="round"/>
<line x1="570.35" y1="386.54" x2="593.00" y2="316.90" stroke="#7b4e8d" stroke-width="3.1" stroke-linecap="round"/>
<line x1="593.00" y1="316.90" x2="615.65" y2="341.48" stroke="#2494b8" stroke-width="3.1" stroke-linecap="round"/>
<line x1="615.65" y1="341.48" x2="638.30" y2="362.47" stroke="#2494b8" stroke-width="3.1" stroke-linecap="round"/>
<line x1="638.30" y1="362.47" x2="660.95" y2="430.06" stroke="#2494b8" stroke-width="3.1" stroke-linecap="round"/>
<line x1="398.3" y1="244" x2="398.3" y2="481.8" stroke="#000" stroke-width="1.8"/>
<line x1="397.4" y1="481.5" x2="674.3" y2="481.5" stroke="#000" stroke-width="1.8"/>
<line x1="395.2" y1="468.20" x2="397.4" y2="468.20" stroke="#333" stroke-width="0.9"/>
<text transform="translate(394.9,471.90) scale(1.0,1)" font-size="10.4" text-anchor="end" fill="#161616">8</text>
<line x1="395.2" y1="442.60" x2="397.4" y2="442.60" stroke="#333" stroke-width="0.9"/>
<text transform="translate(394.9,446.30) scale(1.0,1)" font-size="10.4" text-anchor="end" fill="#161616">9</text>
<line x1="395.2" y1="417.00" x2="397.4" y2="417.00" stroke="#333" stroke-width="0.9"/>
<text transform="translate(394.9,420.70) scale(1.0,1)" font-size="10.4" text-anchor="end" fill="#161616">10</text>
<line x1="395.2" y1="391.40" x2="397.4" y2="391.40" stroke="#333" stroke-width="0.9"/>
<text transform="translate(394.9,395.10) scale(1.0,1)" font-size="10.4" text-anchor="end" fill="#161616">11</text>
<line x1="395.2" y1="365.80" x2="397.4" y2="365.80" stroke="#333" stroke-width="0.9"/>
<text transform="translate(394.9,369.50) scale(1.0,1)" font-size="10.4" text-anchor="end" fill="#161616">12</text>
<line x1="395.2" y1="340.20" x2="397.4" y2="340.20" stroke="#333" stroke-width="0.9"/>
<text transform="translate(394.9,343.90) scale(1.0,1)" font-size="10.4" text-anchor="end" fill="#161616">13</text>
<line x1="395.2" y1="314.60" x2="397.4" y2="314.60" stroke="#333" stroke-width="0.9"/>
<text transform="translate(394.9,318.30) scale(1.0,1)" font-size="10.4" text-anchor="end" fill="#161616">14</text>
<line x1="395.2" y1="289.00" x2="397.4" y2="289.00" stroke="#333" stroke-width="0.9"/>
<text transform="translate(394.9,292.70) scale(1.0,1)" font-size="10.4" text-anchor="end" fill="#161616">15</text>
<line x1="395.2" y1="263.40" x2="397.4" y2="263.40" stroke="#333" stroke-width="0.9"/>
<text transform="translate(394.9,267.10) scale(1.0,1)" font-size="10.4" text-anchor="end" fill="#161616">16</text>
<line x1="411.80" y1="482.40000000000003" x2="411.80" y2="484.6" stroke="#333" stroke-width="0.9"/>
<text transform="translate(414.90,486.40000000000003) rotate(-90) scale(1.0,1)" font-size="10.4" text-anchor="end" fill="#161616">EI</text>
<line x1="434.45" y1="482.40000000000003" x2="434.45" y2="484.6" stroke="#333" stroke-width="0.9"/>
<text transform="translate(437.55,486.40000000000003) rotate(-90) scale(1.0,1)" font-size="10.4" text-anchor="end" fill="#161616">PG</text>
<line x1="457.10" y1="482.40000000000003" x2="457.10" y2="484.6" stroke="#333" stroke-width="0.9"/>
<text transform="translate(460.20,486.40000000000003) rotate(-90) scale(1.0,1)" font-size="10.4" text-anchor="end" fill="#161616">G1</text>
<line x1="479.75" y1="482.40000000000003" x2="479.75" y2="484.6" stroke="#333" stroke-width="0.9"/>
<text transform="translate(482.85,486.40000000000003) rotate(-90) scale(1.0,1)" font-size="10.4" text-anchor="end" fill="#161616">G2</text>
<line x1="502.40" y1="482.40000000000003" x2="502.40" y2="484.6" stroke="#333" stroke-width="0.9"/>
<text transform="translate(505.50,486.40000000000003) rotate(-90) scale(1.0,1)" font-size="10.4" text-anchor="end" fill="#161616">H</text>
<line x1="525.05" y1="482.40000000000003" x2="525.05" y2="484.6" stroke="#333" stroke-width="0.9"/>
<text transform="translate(528.15,486.40000000000003) rotate(-90) scale(1.0,1)" font-size="10.4" text-anchor="end" fill="#161616">T1</text>
<line x1="547.70" y1="482.40000000000003" x2="547.70" y2="484.6" stroke="#333" stroke-width="0.9"/>
<text transform="translate(550.80,486.40000000000003) rotate(-90) scale(1.0,1)" font-size="10.4" text-anchor="end" fill="#161616">T2</text>
<line x1="570.35" y1="482.40000000000003" x2="570.35" y2="484.6" stroke="#333" stroke-width="0.9"/>
<text transform="translate(573.45,486.40000000000003) rotate(-90) scale(1.0,1)" font-size="10.4" text-anchor="end" fill="#161616">C1</text>
<line x1="593.00" y1="482.40000000000003" x2="593.00" y2="484.6" stroke="#333" stroke-width="0.9"/>
<text transform="translate(596.10,486.40000000000003) rotate(-90) scale(1.0,1)" font-size="10.4" text-anchor="end" fill="#161616">C2</text>
<line x1="615.65" y1="482.40000000000003" x2="615.65" y2="484.6" stroke="#333" stroke-width="0.9"/>
<text transform="translate(618.75,486.40000000000003) rotate(-90) scale(1.0,1)" font-size="10.4" text-anchor="end" fill="#161616">S</text>
<line x1="638.30" y1="482.40000000000003" x2="638.30" y2="484.6" stroke="#333" stroke-width="0.9"/>
<text transform="translate(641.40,486.40000000000003) rotate(-90) scale(1.0,1)" font-size="10.4" text-anchor="end" fill="#161616">EP</text>
<line x1="660.95" y1="482.40000000000003" x2="660.95" y2="484.6" stroke="#333" stroke-width="0.9"/>
<text transform="translate(664.05,486.40000000000003) rotate(-90) scale(1.0,1)" font-size="10.4" text-anchor="end" fill="#161616">JP</text>
<text x="536" y="508.6" font-size="10" font-weight="bold" text-anchor="middle" fill="#161616">Developmental stages</text>
<text transform="translate(381.6,361.20) rotate(-90)" font-size="11" font-weight="bold" text-anchor="middle" fill="#161616">TAI</text>
<text transform="translate(445.3,273.6) scale(1,1)" font-size="9.9" fill="#161616"><tspan font-style="italic">p</tspan> = 0.000235</text>
<rect x="529.3" y="263.1" width="13.3" height="65.69999999999999" fill="#f2f2f2"/>
<line x1="530.5" y1="269.3" x2="541.4" y2="269.3" stroke="#dc5256" stroke-width="3.1"/>
<text transform="translate(547.5,273.3) scale(0.93,1)" font-size="10.4" fill="#161616">Early</text>
<line x1="530.5" y1="282.6" x2="541.4" y2="282.6" stroke="#c78eb0" stroke-width="3.1"/>
<text transform="translate(547.5,286.6) scale(0.93,1)" font-size="10.4" fill="#161616">Mid</text>
<line x1="530.5" y1="295.9" x2="541.4" y2="295.9" stroke="#a95a8b" stroke-width="3.1"/>
<text transform="translate(547.5,299.9) scale(0.93,1)" font-size="10.4" fill="#161616">T2</text>
<line x1="530.5" y1="309.2" x2="541.4" y2="309.2" stroke="#7b4e8d" stroke-width="3.1"/>
<text transform="translate(547.5,313.2) scale(0.93,1)" font-size="10.4" fill="#161616">C1</text>
<line x1="530.5" y1="322.4" x2="541.4" y2="322.4" stroke="#2494b8" stroke-width="3.1"/>
<text transform="translate(547.5,326.4) scale(0.93,1)" font-size="10.4" fill="#161616">Late</text>
<line x1="38.1" y1="794.16" x2="321.2" y2="794.16" stroke="#e4e4e4" stroke-width="0.6"/>
<line x1="38.1" y1="758.24" x2="321.2" y2="758.24" stroke="#e4e4e4" stroke-width="0.6"/>
<line x1="38.1" y1="722.32" x2="321.2" y2="722.32" stroke="#e4e4e4" stroke-width="0.6"/>
<line x1="38.1" y1="686.40" x2="321.2" y2="686.40" stroke="#e4e4e4" stroke-width="0.6"/>
<line x1="38.1" y1="650.48" x2="321.2" y2="650.48" stroke="#e4e4e4" stroke-width="0.6"/>
<line x1="38.1" y1="614.56" x2="321.2" y2="614.56" stroke="#e4e4e4" stroke-width="0.6"/>
<line x1="38.1" y1="578.64" x2="321.2" y2="578.64" stroke="#e4e4e4" stroke-width="0.6"/>
<line x1="38.1" y1="776.20" x2="321.2" y2="776.20" stroke="#dcdcdc" stroke-width="1.1"/>
<line x1="38.1" y1="740.28" x2="321.2" y2="740.28" stroke="#dcdcdc" stroke-width="1.1"/>
<line x1="38.1" y1="704.36" x2="321.2" y2="704.36" stroke="#dcdcdc" stroke-width="1.1"/>
<line x1="38.1" y1="668.44" x2="321.2" y2="668.44" stroke="#dcdcdc" stroke-width="1.1"/>
<line x1="38.1" y1="632.52" x2="321.2" y2="632.52" stroke="#dcdcdc" stroke-width="1.1"/>
<line x1="38.1" y1="596.60" x2="321.2" y2="596.60" stroke="#dcdcdc" stroke-width="1.1"/>
<line x1="51.10" y1="563.5" x2="51.10" y2="800.6" stroke="#dcdcdc" stroke-width="0.9"/>
<line x1="74.37" y1="563.5" x2="74.37" y2="800.6" stroke="#dcdcdc" stroke-width="0.9"/>
<line x1="97.64" y1="563.5" x2="97.64" y2="800.6" stroke="#dcdcdc" stroke-width="0.9"/>
<line x1="120.91" y1="563.5" x2="120.91" y2="800.6" stroke="#dcdcdc" stroke-width="0.9"/>
<line x1="144.18" y1="563.5" x2="144.18" y2="800.6" stroke="#dcdcdc" stroke-width="0.9"/>
<line x1="167.45" y1="563.5" x2="167.45" y2="800.6" stroke="#dcdcdc" stroke-width="0.9"/>
<line x1="190.72" y1="563.5" x2="190.72" y2="800.6" stroke="#dcdcdc" stroke-width="0.9"/>
<line x1="213.99" y1="563.5" x2="213.99" y2="800.6" stroke="#dcdcdc" stroke-width="0.9"/>
<line x1="237.26" y1="563.5" x2="237.26" y2="800.6" stroke="#dcdcdc" stroke-width="0.9"/>
<line x1="260.53" y1="563.5" x2="260.53" y2="800.6" stroke="#dcdcdc" stroke-width="0.9"/>
<line x1="283.80" y1="563.5" x2="283.80" y2="800.6" stroke="#dcdcdc" stroke-width="0.9"/>
<line x1="307.07" y1="563.5" x2="307.07" y2="800.6" stroke="#dcdcdc" stroke-width="0.9"/>
<polygon points="51.10,638.27 74.37,599.11 97.64,652.20 120.91,667.79 144.18,779.79 167.45,701.27 190.72,683.10 213.99,700.77 237.26,575.91 260.53,617.86 283.80,623.11 307.07,733.10 307.07,745.31 283.80,654.07 260.53,648.32 237.26,606.30 213.99,716.57 190.72,703.43 167.45,718.73 144.18,792.00 120.91,688.99 97.64,677.42 74.37,631.08 51.10,667.22" fill="#7f7f7f" fill-opacity="0.17"/>
<line x1="51.10" y1="653.57" x2="74.37" y2="615.71" stroke="#dc5256" stroke-width="3.1" stroke-linecap="round"/>
<line x1="74.37" y1="615.71" x2="97.64" y2="664.92" stroke="#dc5256" stroke-width="3.1" stroke-linecap="round"/>
<line x1="97.64" y1="664.92" x2="120.91" y2="677.42" stroke="#dc5256" stroke-width="3.1" stroke-linecap="round"/>
<line x1="120.91" y1="677.42" x2="144.18" y2="786.11" stroke="#dc5256" stroke-width="3.1" stroke-linecap="round"/>
<line x1="144.18" y1="786.11" x2="167.45" y2="709.89" stroke="#c78eb0" stroke-width="3.1" stroke-linecap="round"/>
<line x1="167.45" y1="709.89" x2="190.72" y2="693.80" stroke="#c78eb0" stroke-width="3.1" stroke-linecap="round"/>
<line x1="190.72" y1="693.80" x2="213.99" y2="707.74" stroke="#a95a8b" stroke-width="3.1" stroke-linecap="round"/>
<line x1="213.99" y1="707.74" x2="237.26" y2="592.72" stroke="#7b4e8d" stroke-width="3.1" stroke-linecap="round"/>
<line x1="237.26" y1="592.72" x2="260.53" y2="633.02" stroke="#2494b8" stroke-width="3.1" stroke-linecap="round"/>
<line x1="260.53" y1="633.02" x2="283.80" y2="638.77" stroke="#2494b8" stroke-width="3.1" stroke-linecap="round"/>
<line x1="283.80" y1="638.77" x2="307.07" y2="739.56" stroke="#2494b8" stroke-width="3.1" stroke-linecap="round"/>
<line x1="37.2" y1="563.5" x2="37.2" y2="801.8000000000001" stroke="#000" stroke-width="1.8"/>
<line x1="36.300000000000004" y1="801.5" x2="321.2" y2="801.5" stroke="#000" stroke-width="1.8"/>
<line x1="34.1" y1="776.20" x2="36.300000000000004" y2="776.20" stroke="#333" stroke-width="0.9"/>
<text transform="translate(32.6,779.90) scale(0.97,1)" font-size="10.4" text-anchor="end" fill="#161616">0.10</text>
<line x1="34.1" y1="740.28" x2="36.300000000000004" y2="740.28" stroke="#333" stroke-width="0.9"/>
<text transform="translate(32.6,743.98) scale(0.97,1)" font-size="10.4" text-anchor="end" fill="#161616">0.15</text>
<line x1="34.1" y1="704.36" x2="36.300000000000004" y2="704.36" stroke="#333" stroke-width="0.9"/>
<text transform="translate(32.6,708.06) scale(0.97,1)" font-size="10.4" text-anchor="end" fill="#161616">0.20</text>
<line x1="34.1" y1="668.44" x2="36.300000000000004" y2="668.44" stroke="#333" stroke-width="0.9"/>
<text transform="translate(32.6,672.14) scale(0.97,1)" font-size="10.4" text-anchor="end" fill="#161616">0.25</text>
<line x1="34.1" y1="632.52" x2="36.300000000000004" y2="632.52" stroke="#333" stroke-width="0.9"/>
<text transform="translate(32.6,636.22) scale(0.97,1)" font-size="10.4" text-anchor="end" fill="#161616">0.30</text>
<line x1="34.1" y1="596.60" x2="36.300000000000004" y2="596.60" stroke="#333" stroke-width="0.9"/>
<text transform="translate(32.6,600.30) scale(0.97,1)" font-size="10.4" text-anchor="end" fill="#161616">0.35</text>
<line x1="51.10" y1="802.4" x2="51.10" y2="804.6" stroke="#333" stroke-width="0.9"/>
<text transform="translate(54.00,806.4) rotate(-90) scale(0.97,1)" font-size="10.4" text-anchor="end" fill="#161616">EI</text>
<line x1="74.37" y1="802.4" x2="74.37" y2="804.6" stroke="#333" stroke-width="0.9"/>
<text transform="translate(77.27,806.4) rotate(-90) scale(0.97,1)" font-size="10.4" text-anchor="end" fill="#161616">PG</text>
<line x1="97.64" y1="802.4" x2="97.64" y2="804.6" stroke="#333" stroke-width="0.9"/>
<text transform="translate(100.54,806.4) rotate(-90) scale(0.97,1)" font-size="10.4" text-anchor="end" fill="#161616">G1</text>
<line x1="120.91" y1="802.4" x2="120.91" y2="804.6" stroke="#333" stroke-width="0.9"/>
<text transform="translate(123.81,806.4) rotate(-90) scale(0.97,1)" font-size="10.4" text-anchor="end" fill="#161616">G2</text>
<line x1="144.18" y1="802.4" x2="144.18" y2="804.6" stroke="#333" stroke-width="0.9"/>
<text transform="translate(147.08,806.4) rotate(-90) scale(0.97,1)" font-size="10.4" text-anchor="end" fill="#161616">H</text>
<line x1="167.45" y1="802.4" x2="167.45" y2="804.6" stroke="#333" stroke-width="0.9"/>
<text transform="translate(170.35,806.4) rotate(-90) scale(0.97,1)" font-size="10.4" text-anchor="end" fill="#161616">T1</text>
<line x1="190.72" y1="802.4" x2="190.72" y2="804.6" stroke="#333" stroke-width="0.9"/>
<text transform="translate(193.62,806.4) rotate(-90) scale(0.97,1)" font-size="10.4" text-anchor="end" fill="#161616">T2</text>
<line x1="213.99" y1="802.4" x2="213.99" y2="804.6" stroke="#333" stroke-width="0.9"/>
<text transform="translate(216.89,806.4) rotate(-90) scale(0.97,1)" font-size="10.4" text-anchor="end" fill="#161616">C1</text>
<line x1="237.26" y1="802.4" x2="237.26" y2="804.6" stroke="#333" stroke-width="0.9"/>
<text transform="translate(240.16,806.4) rotate(-90) scale(0.97,1)" font-size="10.4" text-anchor="end" fill="#161616">C2</text>
<line x1="260.53" y1="802.4" x2="260.53" y2="804.6" stroke="#333" stroke-width="0.9"/>
<text transform="translate(263.43,806.4) rotate(-90) scale(0.97,1)" font-size="10.4" text-anchor="end" fill="#161616">S</text>
<line x1="283.80" y1="802.4" x2="283.80" y2="804.6" stroke="#333" stroke-width="0.9"/>
<text transform="translate(286.70,806.4) rotate(-90) scale(0.97,1)" font-size="10.4" text-anchor="end" fill="#161616">EP</text>
<line x1="307.07" y1="802.4" x2="307.07" y2="804.6" stroke="#333" stroke-width="0.9"/>
<text transform="translate(309.97,806.4) rotate(-90) scale(0.97,1)" font-size="10.4" text-anchor="end" fill="#161616">JP</text>
<text x="179.2" y="826" font-size="10" font-weight="bold" text-anchor="middle" fill="#161616">Developmental stages</text>
<text transform="translate(7.6,682.05) rotate(-90)" font-size="11" font-weight="bold" text-anchor="middle" fill="#161616">TdNI</text>
<text transform="translate(91.2,595.8) scale(0.93,1)" font-size="10.3" fill="#161616"><tspan font-style="italic">p</tspan> = 0.000449</text>
<rect x="150.1" y="601" width="13.3" height="66.29999999999995" fill="#f2f2f2"/>
<line x1="151.29999999999998" y1="607.7" x2="162.2" y2="607.7" stroke="#dc5256" stroke-width="3.1"/>
<text transform="translate(168.29999999999998,611.7) scale(0.9,1)" font-size="10.4" fill="#161616">Early</text>
<line x1="151.29999999999998" y1="620.9" x2="162.2" y2="620.9" stroke="#c78eb0" stroke-width="3.1"/>
<text transform="translate(168.29999999999998,624.9) scale(0.9,1)" font-size="10.4" fill="#161616">Mid</text>
<line x1="151.29999999999998" y1="634.1" x2="162.2" y2="634.1" stroke="#a95a8b" stroke-width="3.1"/>
<text transform="translate(168.29999999999998,638.1) scale(0.9,1)" font-size="10.4" fill="#161616">T2</text>
<line x1="151.29999999999998" y1="647.4" x2="162.2" y2="647.4" stroke="#7b4e8d" stroke-width="3.1"/>
<text transform="translate(168.29999999999998,651.4) scale(0.9,1)" font-size="10.4" fill="#161616">C1</text>
<line x1="151.29999999999998" y1="660.7" x2="162.2" y2="660.7" stroke="#2494b8" stroke-width="3.1"/>
<text transform="translate(168.29999999999998,664.7) scale(0.9,1)" font-size="10.4" fill="#161616">Late</text>
<line x1="369.9" y1="559.8" x2="369.9" y2="806.6" stroke="#000" stroke-width="1.8"/>
<line x1="369" y1="805.8" x2="674.5" y2="805.8" stroke="#000" stroke-width="1.8"/>
<polyline points="389,659.9 422.4,627.1 438.5,668.9 471.2,678.5 487.3,786.8 503.7,710 536.8,697.4 552,702.2 585.1,615.3 630.9,670.5 647.3,745.3" fill="none" stroke="#000" stroke-width="1.8" stroke-linejoin="miter"/>
<polyline points="389.6,707.2 417.3,697.2 422,700.3 450.6,760.4 487.5,765.8 514.9,787.8 552.1,701.4 577.6,614.6" fill="none" stroke="#000" stroke-width="2" stroke-dasharray="2 5"/>
<line x1="493.4" y1="790.3" x2="504.5" y2="796.4" stroke="#444" stroke-width="0.7"/>
<line x1="520.2" y1="788.2" x2="537.8" y2="782" stroke="#444" stroke-width="0.7"/>
<line x1="617" y1="634.8" x2="609.2" y2="642.1" stroke="#444" stroke-width="0.7"/>
<line x1="641.1" y1="660.5" x2="633.8" y2="668" stroke="#444" stroke-width="0.7"/>
<line x1="650.8" y1="745.3" x2="655" y2="744" stroke="#444" stroke-width="0.7"/>
<text x="507.2" y="799.6" font-size="8.2" text-anchor="start" fill="#161616">Heart</text>
<text x="543.2" y="785.2" font-size="8.2" text-anchor="start" fill="#161616">Torpedo</text>
<text x="611.4" y="630.5" font-size="8.2" text-anchor="start" fill="#161616">Seedling</text>
<text x="660.2" y="656" font-size="8.2" text-anchor="middle" fill="#161616">Seedling with</text>
<text x="660.2" y="665.3" font-size="8.2" text-anchor="middle" fill="#161616">epicotyl</text>
<text x="669.6" y="740.1" font-size="8.2" text-anchor="middle" fill="#161616">Juvenile</text>
<text x="669.6" y="749.2" font-size="8.2" text-anchor="middle" fill="#161616">plant</text>
<text x="369" y="817.3" font-size="10" fill="#161616">Early</text>
<text x="674.6" y="818.4" font-size="10" text-anchor="end" fill="#161616">Late</text>
<text x="521.5" y="825.8" font-size="10" font-weight="bold" text-anchor="middle" fill="#161616">Ontogeny</text>
<text transform="translate(361,681) rotate(-90)" font-size="10" font-weight="bold" text-anchor="middle" fill="#161616">Phylogeny</text>
<text transform="translate(364,557.4) rotate(-90)" font-size="9.6" text-anchor="end" fill="#161616">Young</text>
<text transform="translate(365.5,806) rotate(-90)" font-size="9.6" text-anchor="start" fill="#161616">Old</text>
<rect x="383.2" y="583.2" width="13.7" height="12.8" fill="#f2f2f2"/>
<rect x="383.2" y="599" width="13.7" height="12.5" fill="#f2f2f2"/>
<line x1="384.6" y1="589.5" x2="395.5" y2="589.5" stroke="#111" stroke-width="1.15"/>
<line x1="384.9" y1="605.3" x2="395.5" y2="605.3" stroke="#111" stroke-width="1.15" stroke-dasharray="2.1 1.9"/>
<text transform="translate(401.3,592.1) scale(0.92,1)" font-size="10" fill="#161616">Somatic embryogenesis in <tspan font-style="italic">V. vinifera</tspan></text>
<text transform="translate(401.3,607.4) scale(0.92,1)" font-size="10" fill="#161616">Zygotic embryogenesis in <tspan font-style="italic">A. thaliana</tspan></text>
</svg>
</body></html>
